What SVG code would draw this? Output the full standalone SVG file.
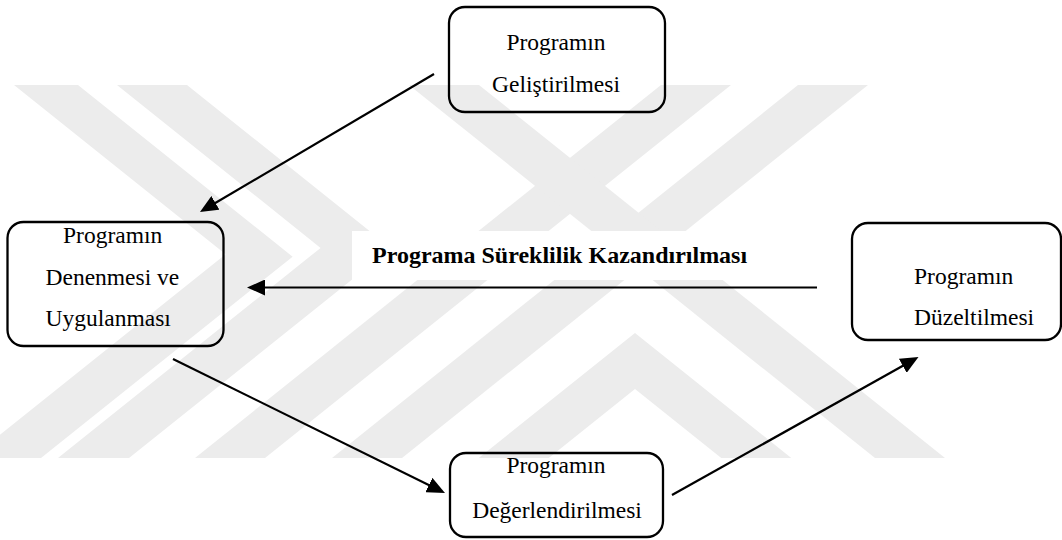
<svg xmlns="http://www.w3.org/2000/svg" width="1062" height="540" viewBox="0 0 1062 540">
  <defs>
    <style>
      .box { fill: none; stroke: #000; stroke-width: 2.3; }
      .t { font-family: "Liberation Serif", "Times New Roman", serif; font-size: 23.5px; fill: #000; }
      .lbl { font-family: "Liberation Serif", "Times New Roman", serif; font-size: 24px; font-weight: bold; fill: #000; }
      .c { text-anchor: middle; }
      .edge { fill: none; stroke: #000; stroke-width: 2.2; }
      .wm { fill: #ececec; }
    </style>
    <marker id="ah" markerUnits="userSpaceOnUse" markerWidth="18" markerHeight="16" refX="14" refY="8" orient="auto">
      <path d="M0,0 L18,8 L0,16 Z" fill="#000"/>
    </marker>
  </defs>
  <rect width="1062" height="540" fill="#fff"/>

  <g id="watermark">
    <polygon class="wm" points="14,85 78,85 292.6,256.7 41,458 -29,458 225.6,254.3"/>
    <polygon class="wm" points="117,85 187,85 391.1,248.3 129,458 58,458 320.6,247.9"/>
    <polygon class="wm" points="661,85 731,85 265,458 195,458"/>
    <polygon class="wm" points="798,85 868,85 402,458 332,458"/>
    <polygon class="wm" points="409,85 479,85 945,458 875,458"/>
    <polygon class="wm" points="478.75,458 635,333 791.25,458 721.25,458 635,389 548.75,458"/>
  </g>

  <g id="label-bg">
    <rect x="352" y="231" width="418" height="49" fill="#fff"/>
  </g>

  <g id="connectors">
    <line class="edge" x1="434" y1="74" x2="203.4" y2="210" marker-end="url(#ah)"/>
    <line class="edge" x1="817" y1="287.5" x2="251" y2="287.5" marker-end="url(#ah)"/>
    <line class="edge" x1="173" y1="359" x2="441.4" y2="491.2" marker-end="url(#ah)"/>
    <line class="edge" x1="672" y1="495" x2="915" y2="359" marker-end="url(#ah)"/>
    <text class="lbl" x="372" y="263">Programa Süreklilik Kazandırılması</text>
  </g>

  <g id="node-gelistirme">
    <rect class="box" x="449" y="7" width="216" height="105" rx="16"/>
    <text class="t c" x="556" y="50">Programın</text>
    <text class="t c" x="556" y="92">Geliştirilmesi</text>
  </g>

  <g id="node-deneme">
    <rect class="box" x="7.5" y="222" width="216" height="124" rx="16"/>
    <text class="t" x="63" y="243">Programın</text>
    <text class="t" x="45.5" y="285">Denenmesi ve</text>
    <text class="t" x="45.5" y="326">Uygulanması</text>
  </g>

  <g id="node-duzeltme">
    <rect class="box" x="852" y="223" width="209" height="117" rx="16"/>
    <text class="t" x="914" y="284">Programın</text>
    <text class="t" x="914" y="325">Düzeltilmesi</text>
  </g>

  <g id="node-degerlendirme">
    <rect class="box" x="450" y="453" width="213" height="84" rx="16"/>
    <text class="t c" x="556" y="473">Programın</text>
    <text class="t c" x="557" y="518">Değerlendirilmesi</text>
  </g>
</svg>
